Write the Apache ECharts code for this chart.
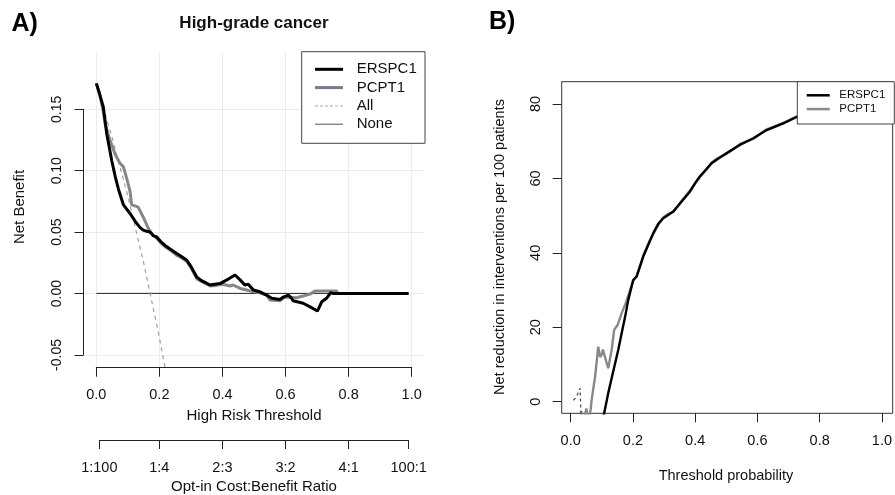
<!DOCTYPE html>
<html><head><meta charset="utf-8">
<script src="https://cdn.jsdelivr.net/npm/echarts@6/dist/echarts.min.js"></script>
<style>html,body{margin:0;padding:0;background:#fff}#c{width:895px;height:495px}</style>
</head><body><div id="c"></div>
<script>
const FONT = '"Liberation Sans", Arial, Helvetica, sans-serif';

// ---------- Panel A data ----------
const thresholdTicks = [0, 0.2, 0.4, 0.6, 0.8, 1.0];
const netBenefitTicks = [-0.05, 0, 0.05, 0.10, 0.15];
const ratioPositions = [1/101, 0.2, 0.4, 0.6, 0.8, 100/101];
const ratioLabels = ['1:100', '1:4', '2:3', '3:2', '4:1', '100:1'];

const aERSPC1 = [[0,0.171],[0.0095,0.163],[0.022,0.152],[0.033,0.130],[0.049,0.108],[0.06,0.095],[0.07,0.085],[0.086,0.072],[0.107,0.065],[0.125,0.058],[0.139,0.0535],[0.149,0.0515],[0.16,0.0505],[0.17,0.050],[0.181,0.047],[0.191,0.046],[0.205,0.042],[0.218,0.039],[0.235,0.036],[0.255,0.0325],[0.27,0.030],[0.287,0.027],[0.30,0.022],[0.318,0.0135],[0.330,0.011],[0.340,0.0095],[0.361,0.0068],[0.375,0.0075],[0.392,0.008],[0.414,0.011],[0.424,0.0125],[0.44,0.015],[0.456,0.011],[0.471,0.0068],[0.482,0.0075],[0.498,0.0027],[0.519,0.0013],[0.540,-0.0014],[0.556,-0.004],[0.582,-0.005],[0.593,-0.003],[0.609,-0.0014],[0.619,-0.004],[0.624,-0.006],[0.656,-0.008],[0.678,-0.011],[0.701,-0.0144],[0.715,-0.0068],[0.730,-0.004],[0.743,0.0005],[0.75,0],[0.99,0]];
const aPCPT1 = [[0,0.171],[0.01,0.163],[0.022,0.148],[0.028,0.138],[0.043,0.125],[0.06,0.113],[0.075,0.106],[0.086,0.103],[0.097,0.093],[0.107,0.083],[0.112,0.072],[0.125,0.071],[0.133,0.070],[0.149,0.062],[0.165,0.053],[0.18,0.047],[0.191,0.045],[0.205,0.041],[0.218,0.038],[0.235,0.035],[0.255,0.031],[0.27,0.029],[0.287,0.026],[0.30,0.021],[0.318,0.012],[0.335,0.0095],[0.35,0.0075],[0.361,0.006],[0.38,0.0065],[0.40,0.0075],[0.424,0.006],[0.434,0.0068],[0.456,0.004],[0.477,0.0027],[0.487,0.002],[0.51,0.001],[0.540,-0.0014],[0.551,-0.0054],[0.582,-0.006],[0.598,-0.003],[0.635,-0.0035],[0.678,-0.0006],[0.693,0.0019],[0.762,0.0019],[0.766,0],[0.99,0]];
const aAll = [[0,0.171],[0.05,0.127],[0.10,0.079],[0.15,0.025],[0.20,-0.036],[0.218,-0.0605]];
const aNone = [[0,0],[0.99,0]];

// ---------- Panel B data ----------
const reductionTicks = [0, 20, 40, 60, 80];
const bERSPC1 = [[0.104,-4],[0.107,-3.1],[0.120,2.3],[0.136,8.1],[0.152,13.9],[0.163,18.4],[0.174,22.8],[0.184,27.3],[0.200,32.7],[0.211,33.6],[0.232,39.0],[0.25,42.5],[0.264,45.3],[0.280,47.8],[0.296,49.3],[0.312,50.2],[0.328,51.1],[0.355,53.8],[0.382,56.5],[0.40,59.0],[0.413,60.5],[0.435,62.6],[0.451,64.1],[0.467,65.0],[0.499,66.8],[0.541,69.0],[0.584,70.8],[0.627,73.0],[0.680,74.8],[0.723,76.5],[0.76,77.8],[0.80,79.0],[0.85,80.3],[0.90,81.3],[0.95,82.0],[0.99,82.5]];
const bPCPT1 = [[0.033,-2.5],[0.036,-4],[0.045,-4],[0.050,-1.8],[0.053,-3.5],[0.060,-4],[0.064,-2],[0.067,0.5],[0.078,6.7],[0.088,14.8],[0.094,12.0],[0.099,12.6],[0.103,14.0],[0.107,13.5],[0.113,11.0],[0.120,9.0],[0.131,13.9],[0.139,19.3],[0.150,20.6],[0.163,23.8],[0.176,26.5],[0.19,30.0],[0.200,32.5],[0.211,33.8],[0.232,39.2],[0.25,42.8],[0.264,45.0],[0.28,47.5],[0.296,49.5],[0.312,50.5],[0.328,51.0],[0.355,54.0],[0.382,56.8],[0.40,58.8],[0.413,60.3],[0.435,62.4],[0.451,64.3],[0.467,65.3],[0.499,66.6],[0.541,69.2],[0.584,70.6],[0.627,73.2],[0.680,74.9],[0.723,76.7],[0.76,77.9],[0.80,79.1],[0.85,80.4],[0.90,81.4],[0.95,82.1],[0.99,82.6]];
const bDashed = [[0.0086,0.4],[0.018,1.2],[0.030,3.6],[0.033,-3.5]];

const chart = echarts.init(document.getElementById('c'), null, {renderer: 'canvas'});

const AX = '#222';
const hidden = (gi, extra) => Object.assign({gridIndex: gi, type: 'value', show: false}, extra || {});
const ratioFmt = v => {
  for (let i = 0; i < ratioPositions.length; i++) if (Math.abs(ratioPositions[i] - v) < 1e-6) return ratioLabels[i];
  return '';
};

const option = {
  animation: false,
  backgroundColor: '#fff',
  grid: [
    {left: 83.7, top: 52, width: 340.6, height: 315.7},          // 0 A main
    {left: 96.3, top: 52, width: 315.4, height: 315.7},          // 1 A x axis
    {left: 99.3, top: 400, width: 309.4, height: 40},            // 2 A ratio axis
    {left: 83.5, top: 109.3, width: 340.8, height: 245.7},       // 3 A y axis
    {left: 561.7, top: 81.7, width: 331, height: 331.6, show: true, borderColor: '#333', borderWidth: 1, backgroundColor: 'transparent'}, // 4 B main
    {left: 570.7, top: 350, width: 312.6, height: 63.3},         // 5 B x axis
    {left: 561.7, top: 104, width: 300, height: 297.7}           // 6 B y axis
  ],
  xAxis: [
    hidden(0, {min: -0.04, max: 1.04}),
    {gridIndex: 1, type: 'value', min: 0, max: 1, interval: 0.2, position: 'bottom',
      axisLine: {show: true, onZero: false, lineStyle: {color: AX, width: 1}},
      axisTick: {show: true, length: 9, lineStyle: {color: AX}},
      axisLabel: {margin: 20, fontSize: 14.5, fontFamily: FONT, color: '#111', formatter: v => v.toFixed(1)},
      splitLine: {show: true, lineStyle: {color: '#ececec', width: 1}}},
    {gridIndex: 2, type: 'value', min: 1/101, max: 100/101, position: 'bottom',
      axisLine: {show: true, onZero: false, lineStyle: {color: AX, width: 1}},
      axisTick: {show: true, length: 9, lineStyle: {color: AX}, customValues: ratioPositions},
      axisLabel: {margin: 20, fontSize: 14.5, fontFamily: FONT, color: '#111', customValues: ratioPositions, formatter: ratioFmt},
      splitLine: {show: false}},
    hidden(3, {min: 0, max: 1}),
    hidden(4, {min: -0.0288, max: 1.0301}),
    {gridIndex: 5, type: 'value', min: 0, max: 1, interval: 0.2, position: 'bottom',
      axisLine: {show: false, onZero: false},
      axisTick: {show: true, length: 9, lineStyle: {color: AX}},
      axisLabel: {margin: 20, fontSize: 14.5, fontFamily: FONT, color: '#111', formatter: v => v.toFixed(1)},
      splitLine: {show: false}},
    hidden(6, {min: 0, max: 1})
  ],
  yAxis: [
    hidden(0, {min: -0.0605, max: 0.1965}),
    hidden(1, {min: 0, max: 1}),
    hidden(2, {min: 0, max: 1}),
    {gridIndex: 3, type: 'value', min: -0.05, max: 0.15, interval: 0.05, position: 'left',
      axisLine: {show: true, onZero: false, lineStyle: {color: AX, width: 1}},
      axisTick: {show: true, length: 9, lineStyle: {color: AX}},
      axisLabel: {margin: 19, rotate: 90, fontSize: 14, fontFamily: FONT, color: '#111', formatter: v => v.toFixed(2)},
      splitLine: {show: true, lineStyle: {color: '#ececec', width: 1}}},
    hidden(4, {min: -3.117, max: 85.99}),
    hidden(5, {min: 0, max: 1}),
    {gridIndex: 6, type: 'value', min: 0, max: 80, interval: 20, position: 'left',
      axisLine: {show: false, onZero: false},
      axisTick: {show: true, length: 9, lineStyle: {color: AX}},
      axisLabel: {margin: 18, rotate: 90, fontSize: 14.5, fontFamily: FONT, color: '#111'},
      splitLine: {show: false}}
  ],
  legend: [
    {left: 315, top: 61.8, orient: 'vertical', padding: 0, itemGap: 3.3, itemWidth: 28, itemHeight: 14, selectedMode: false, z: 6,
      itemStyle: {borderWidth: 0},
      textStyle: {fontFamily: FONT, fontSize: 15, lineHeight: 15, color: '#111', padding: [0, 0, 0, 8.7]},
      data: [
        {name: 'ERSPC1', icon: 'path://M0,0H28V3H0Z'},
        {name: 'PCPT1', icon: 'path://M0,0H28V3H0Z', itemStyle: {color: '#7a7a8e'}},
        {name: 'All', icon: 'path://M0,0H3V1H0Z M5,0H8V1H5Z M10,0H13V1H10Z M15,0H18V1H15Z M20,0H23V1H20Z M25,0H28V1H25Z', itemStyle: {color: '#a8a8b8'}},
        {name: 'None', icon: 'path://M0,0H28V1H0Z', itemStyle: {color: '#555'}}
      ]},
    {left: 806.7, top: 89.3, orient: 'vertical', padding: 0, itemGap: 1.8, itemWidth: 23, itemHeight: 10, selectedMode: false, z: 6,
      itemStyle: {borderWidth: 0},
      textStyle: {fontFamily: FONT, fontSize: 11.5, lineHeight: 11.5, color: '#111', padding: [0, 0, 0, 4.6]},
      data: [
        {name: 'ERSPC1', icon: 'path://M0,0H23V2.5H0Z', itemStyle: {color: '#000'}},
        {name: 'PCPT1', icon: 'path://M0,0H23V2.5H0Z', itemStyle: {color: '#8a8a8a'}}
      ]}
  ],
  graphic: [
    {type: 'text', x: 11.5, y: 24, style: {text: 'A)', font: 'bold 25px ' + FONT, fill: '#000', textAlign: 'left', textVerticalAlign: 'middle', align: 'left', verticalAlign: 'middle'}},
    {type: 'text', x: 489, y: 22.5, style: {text: 'B)', font: 'bold 25px ' + FONT, fill: '#000', textAlign: 'left', textVerticalAlign: 'middle', align: 'left', verticalAlign: 'middle'}},
    {type: 'text', x: 254, y: 23, style: {text: 'High-grade cancer', font: 'bold 17px ' + FONT, fill: '#111', textAlign: 'center', textVerticalAlign: 'middle', align: 'center', verticalAlign: 'middle'}},
    {type: 'text', x: 254, y: 416, style: {text: 'High Risk Threshold', font: '15px ' + FONT, fill: '#111', textAlign: 'center', textVerticalAlign: 'middle', align: 'center', verticalAlign: 'middle'}},
    {type: 'text', x: 254, y: 487, style: {text: 'Opt-in Cost:Benefit Ratio', font: '15px ' + FONT, fill: '#111', textAlign: 'center', textVerticalAlign: 'middle', align: 'center', verticalAlign: 'middle'}},
    {type: 'text', x: 20, y: 207, rotation: Math.PI / 2, style: {text: 'Net Benefit', font: '15px ' + FONT, fill: '#111', textAlign: 'center', textVerticalAlign: 'middle', align: 'center', verticalAlign: 'middle'}},
    {type: 'text', x: 726, y: 476, style: {text: 'Threshold probability', font: '14.5px ' + FONT, fill: '#111', textAlign: 'center', textVerticalAlign: 'middle', align: 'center', verticalAlign: 'middle'}},
    {type: 'text', x: 500, y: 247, rotation: Math.PI / 2, style: {text: 'Net reduction in interventions per 100 patients', font: '14.5px ' + FONT, fill: '#111', textAlign: 'center', textVerticalAlign: 'middle', align: 'center', verticalAlign: 'middle'}},
    {type: 'rect', z: 5, shape: {x: 301.7, y: 51.7, width: 123.3, height: 91.6}, style: {fill: '#fff', stroke: '#444', lineWidth: 1}},
    {type: 'rect', z: 5, shape: {x: 797.3, y: 81.7, width: 97, height: 42.3}, style: {fill: '#fff', stroke: '#444', lineWidth: 1}}
  ],
  series: [
    {name: 'None', type: 'line', xAxisIndex: 0, yAxisIndex: 0, data: aNone, symbol: 'none', color: '#222', lineStyle: {color: '#222', width: 1}, z: 2},
    {name: 'All', type: 'line', xAxisIndex: 0, yAxisIndex: 0, data: aAll, symbol: 'none', clip: false, color: '#a0a0a0', lineStyle: {color: '#a0a0a0', width: 1.2, type: [4, 4]}, z: 2},
    {name: 'PCPT1', type: 'line', xAxisIndex: 0, yAxisIndex: 0, data: aPCPT1, symbol: 'none', color: '#878787', lineStyle: {color: '#878787', width: 3}, z: 3},
    {name: 'ERSPC1', type: 'line', xAxisIndex: 0, yAxisIndex: 0, data: aERSPC1, symbol: 'none', color: '#000', lineStyle: {color: '#000', width: 3}, z: 4},
    {name: 'PCPT1', type: 'line', xAxisIndex: 4, yAxisIndex: 4, data: bPCPT1, symbol: 'none', color: '#888', lineStyle: {color: '#888', width: 2.4}, z: 3},
    {name: 'ERSPC1', type: 'line', xAxisIndex: 4, yAxisIndex: 4, data: bERSPC1, symbol: 'none', color: '#000', lineStyle: {color: '#000', width: 2.4}, z: 4},
    {name: 'bDash', type: 'line', xAxisIndex: 4, yAxisIndex: 4, data: bDashed, symbol: 'none', color: '#444', lineStyle: {color: '#444', width: 1.2, type: [3, 3]}, z: 3}
  ]
};
chart.setOption(option);
</script>
</body></html>
